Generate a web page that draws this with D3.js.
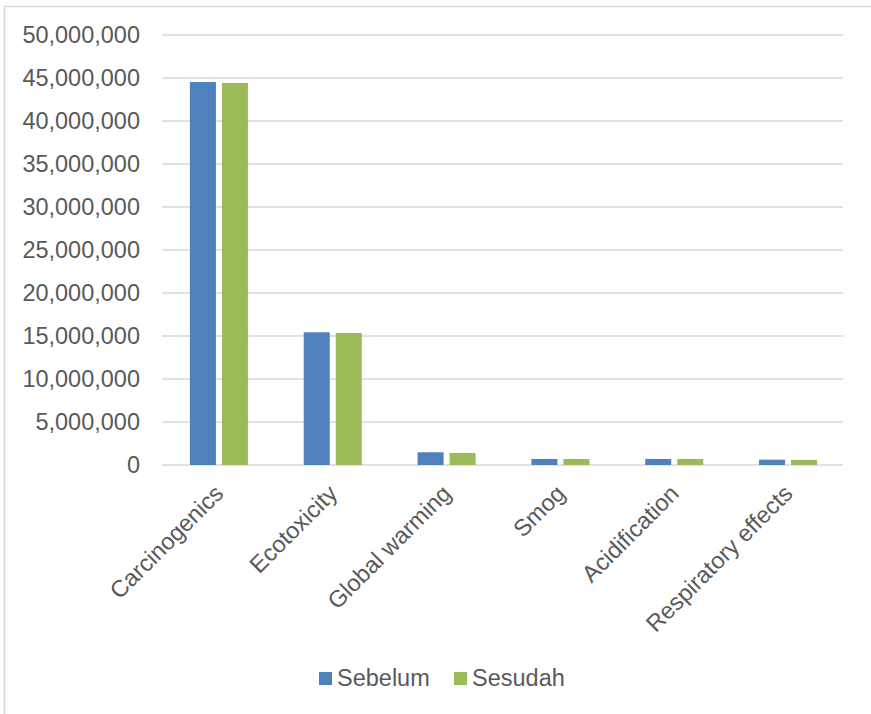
<!DOCTYPE html>
<html>
<head>
<meta charset="utf-8">
<script src="https://cdn.jsdelivr.net/npm/d3@7.9.0/dist/d3.min.js"></script>
<style>
  html, body { margin: 0; padding: 0; background: #fff; }
  svg { display: block; font-family: "Liberation Sans", Arial, sans-serif; }
</style>
</head>
<body>
<svg id="chart" width="871" height="714"></svg>
<script>
// data
const categories = ["Carcinogenics", "Ecotoxicity", "Global warming", "Smog", "Acidification", "Respiratory effects"];
const seriesNames = ["Sebelum", "Sesudah"];
const sebelum = [44530000, 15430000, 1480000, 700000, 700000, 620000];
const sesudah = [44420000, 15350000, 1400000, 700000, 700000, 600000];
const yTicks = [0, 5000000, 10000000, 15000000, 20000000, 25000000, 30000000, 35000000, 40000000, 45000000, 50000000];
const colors = ["#4F81BD", "#9BBB59"];

const svg = d3.select("#chart");

// chart frame (right/bottom edges fall outside the picture)
svg.append("rect")
    .attr("x", 4.5).attr("y", 6.5)
    .attr("width", 900).attr("height", 900)
    .attr("fill", "#fff")
    .attr("stroke", "#d9d9d9")
    .attr("stroke-width", 1.5);

const plotLeft = 162, plotRight = 845, plotTop = 35, plotBottom = 465;

const x0 = d3.scaleBand()
    .domain(categories)
    .range([plotLeft, plotRight])
    .paddingInner(0.49)
    .paddingOuter(0.245);

const x1 = d3.scaleBand()
    .domain(seriesNames)
    .range([0, x0.bandwidth()])
    .paddingInner(0.1875);

const y = d3.scaleLinear()
    .domain([0, 50000000])
    .range([plotBottom, plotTop]);

// gridlines + y labels
const fmt = d3.format(",");
const yAxis = svg.append("g");
yAxis.selectAll("line")
    .data(yTicks)
    .join("line")
    .attr("x1", plotLeft).attr("x2", 843)
    .attr("y1", d => y(d)).attr("y2", d => y(d))
    .attr("stroke", "#d9d9d9")
    .attr("stroke-width", 1.4);

yAxis.selectAll("text")
    .data(yTicks)
    .join("text")
    .attr("x", 140)
    .attr("y", d => y(d))
    .attr("dy", "0.36em")
    .attr("text-anchor", "end")
    .attr("font-size", 23.5)
    .attr("fill", "#595959")
    .text(d => fmt(d));

// bars
const rows = categories.map((c, i) => ({ cat: c, vals: [sebelum[i], sesudah[i]] }));
const groups = svg.append("g").selectAll("g")
    .data(rows)
    .join("g")
    .attr("transform", d => `translate(${x0(d.cat)},0)`);

groups.selectAll("rect")
    .data(d => d.vals.map((v, i) => ({ s: seriesNames[i], v, i })))
    .join("rect")
    .attr("x", d => x1(d.s))
    .attr("width", x1.bandwidth())
    .attr("y", d => y(d.v))
    .attr("height", d => y(0) - y(d.v))
    .attr("fill", d => colors[d.i]);

// rotated category labels
svg.append("g").selectAll("text")
    .data(categories)
    .join("text")
    .attr("transform", d => `translate(${x0(d) + x0.bandwidth() / 2 + 6},495) rotate(-45)`)
    .attr("text-anchor", "end")
    .attr("font-size", 23.5)
    .attr("fill", "#595959")
    .text(d => d);

// legend
const legend = svg.append("g");
const legendX = [319, 454];
seriesNames.forEach((name, i) => {
    legend.append("rect")
        .attr("x", legendX[i]).attr("y", 672)
        .attr("width", 13).attr("height", 13)
        .attr("fill", colors[i]);
    legend.append("text")
        .attr("x", legendX[i] + 18).attr("y", 686)
        .attr("font-size", 23.5)
        .attr("fill", "#595959")
        .text(name);
});
</script>
</body>
</html>
